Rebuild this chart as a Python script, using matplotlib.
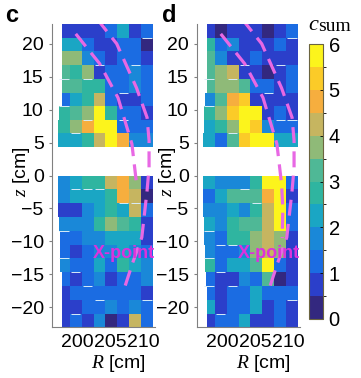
import numpy as np
import matplotlib
matplotlib.use('Agg')
from matplotlib import pyplot as plt
from matplotlib.colors import ListedColormap, BoundaryNorm

plt.rcParams['font.family'] = ['Liberation Sans', 'DejaVu Sans']
plt.rcParams['mathtext.fontset'] = 'custom'
plt.rcParams['mathtext.it'] = 'Liberation Serif:italic'
plt.rcParams['mathtext.rm'] = 'Liberation Sans'

# discrete parula-like colours, one for every 0.5 of c_sum
level_colors = ['#33287f', '#2b3fca', '#1b6ce2', '#1a88d8', '#1aa6c4', '#2fb5a0',
                '#4fb896', '#8fba78', '#c6b560', '#f6ae3e', '#fbcb28', '#fcf41c']
levels = np.arange(0, 6.5, 0.5)

# rows go from top to bottom
c_upper = [[0.8, 0.8, 0.8, 0.8, 1.2, 2.2, 0.8, 1.3],
           [2.2, 2.2, 1.3, 0.8, 0.8, 1.2, 1.3, 0.3],
           [3.7, 3.7, 1.7, 1.3, 0.9, 1.3, 1.3, 0.9],
           [3.2, 2.7, 3.7, 0.9, 1.3, 1.3, 1.7, 1.2],
           [3.2, 3.2, 2.7, 2.7, 1.3, 1.3, 1.7, 1.2],
           [1.3, 2.0, 2.7, 4.2, 1.2, 0.9, 0.9, 1.2],
           [2.7, 3.2, 3.7, 5.7, 2.7, 1.3, 1.0, 0.8],
           [2.7, 3.7, 4.7, 5.7, 5.7, 1.0, 1.3, 1.3],
           [2.2, 2.2, 2.7, 4.2, 5.7, 4.7, 1.5, 1.7]]
c_lower = [[1.7, 2.2, 2.7, 2.7, 4.2, 4.7, 3.7, 0.8],
           [1.7, 2.2, 2.2, 2.2, 2.7, 4.7, 4.2, 0.3],
           [0.8, 0.8, 1.5, 2.2, 2.7, 2.2, 4.2, 1.3],
           [1.7, 1.7, 1.7, 2.7, 3.7, 3.2, 2.7, 0.9],
           [1.3, 1.3, 1.7, 1.7, 2.2, 2.2, 2.2, 0.9],
           [1.3, 0.9, 1.3, 1.7, 1.7, 2.2, 1.7, 1.2],
           [1.7, 1.3, 1.3, 2.2, 1.3, 2.7, 2.2, 1.7],
           [1.3, 0.9, 1.2, 1.7, 0.8, 1.3, 1.3, 1.7],
           [0.9, 1.3, 1.3, 1.3, 1.3, 1.3, 1.3, 0.9],
           [0.9, 0.9, 1.3, 1.3, 1.7, 1.3, 1.7, 1.2],
           [0.8, 1.3, 0.8, 1.7, 0.3, 0.8, 4.2, 1.2]]
d_upper = [[0.8, 0.3, 0.8, 0.8, 0.8, 0.4, 0.8, 1.3],
           [2.7, 1.3, 1.5, 0.8, 0.8, 0.9, 1.3, 0.8],
           [3.2, 1.5, 0.8, 0.8, 1.3, 0.8, 0.9, 0.8],
           [3.2, 3.7, 4.2, 0.8, 0.8, 0.3, 0.9, 1.3],
           [3.2, 3.7, 3.7, 3.2, 1.3, 1.3, 0.9, 1.3],
           [1.5, 3.2, 4.7, 5.2, 0.9, 0.9, 0.8, 0.8],
           [2.7, 3.7, 5.2, 5.7, 5.7, 0.8, 1.2, 0.9],
           [2.2, 2.7, 3.7, 5.7, 5.2, 1.7, 1.2, 1.2],
           [2.2, 1.2, 3.2, 5.2, 5.7, 5.7, 2.2, 2.0]]
d_lower = [[2.2, 1.7, 1.7, 1.7, 2.7, 5.7, 5.7, 1.3],
           [1.3, 2.2, 3.2, 3.2, 3.2, 4.7, 5.7, 0.8],
           [1.7, 1.7, 2.2, 1.7, 2.7, 4.2, 5.7, 1.2],
           [2.2, 1.7, 2.7, 3.2, 3.2, 4.2, 5.7, 1.3],
           [1.7, 1.3, 2.7, 2.7, 3.7, 4.2, 3.7, 0.9],
           [1.7, 1.3, 1.2, 1.7, 3.7, 4.2, 3.7, 0.9],
           [2.7, 1.3, 2.2, 2.2, 3.2, 5.7, 1.3, 0.9],
           [1.3, 0.9, 0.9, 1.7, 1.3, 3.2, 0.2, 0.9],
           [1.3, 0.9, 1.3, 1.3, 2.2, 1.3, 1.2, 1.3],
           [2.0, 0.9, 1.3, 1.3, 2.2, 0.9, 1.3, 0.9],
           [0.8, 1.2, 1.2, 2.2, 0.9, 0.9, 1.3, 0.9]]

R_edges = [197.0, 198.8, 200.6, 202.4, 204.2, 206.0, 207.8, 209.6, 211.4]
z_upper = [23.0, 20.9, 18.9, 16.8, 14.7, 12.6, 10.6, 8.5, 6.5, 4.4]
z_lower = [0.0, -2.1, -4.2, -6.3, -8.4, -10.5, -12.6, -14.7, -16.8, -18.9, -21.0, -23.0]

# left end of every row, the probe rows are not quite in line
left_c_upper = [197.6, 197.6, 197.6, 197.6, 197.6, 197.6, 197.2, 197.0, 197.0]
left_c_lower = [197.0, 197.0, 197.0, 197.2, 197.3, 197.3, 197.3, 197.6, 197.6, 197.6, 197.6]
left_d_upper = [197.6, 197.6, 197.6, 197.6, 197.6, 197.3, 197.2, 197.2, 197.0]
left_d_lower = [197.0, 197.0, 197.0, 197.2, 197.2, 197.3, 197.3, 197.4, 197.6, 197.6, 197.6]

# short white marks: (edge between rows, column)
marks_c_upper = [(3, 3), (4, 0), (4, 2), (5, 5), (6, 0), (7, 2), (7, 5), (1, 7), (3, 6), (8, 1)]
marks_c_lower = [(1, 1), (1, 2), (1, 3), (2, 5), (2, 6), (4, 0), (6, 0), (7, 1), (8, 2), (9, 3), (10, 1), (9, 7)]
marks_d_upper = [(1, 7), (3, 3), (3, 6), (4, 0), (4, 2), (5, 5), (6, 0), (7, 6), (7, 7), (8, 2)]
marks_d_lower = [(1, 3), (2, 4), (4, 0), (5, 1), (5, 2), (6, 0), (7, 1), (8, 0), (8, 2), (9, 7), (10, 1)]

sep_outer_R = [202.9, 205.9, 208.9, 210.5, 210.8, 210.8, 210.5, 209.7, 208.3, 207.1]
sep_outer_z = [23.8, 20.0, 13.3, 8.8, 5.3, 1.2, -2.3, -9.4, -13.3, -17.0]
sep_inner_R = [199.7, 203.3, 206.1, 208.2, 208.9]
sep_inner_z = [21.5, 17.0, 11.8, 4.8, -1.2]
sep_inner_d_R = [199.7, 203.3, 206.1, 208.2, 208.9, 209.1, 209.0]
sep_inner_d_z = [21.5, 17.0, 11.8, 4.8, -1.2, -5.0, -9.5]

cmap = ListedColormap(level_colors)
norm = BoundaryNorm(levels, cmap.N)

W, H = 361.0, 378.0
fig = plt.figure(figsize=(3.61, 3.78), dpi=100)


def block(ax, vals, zs, lefts, marks):
    for i, row in enumerate(vals):
        xs = [lefts[i]] + R_edges[1:]
        ax.pcolormesh(xs, zs[i:i + 2], [row], cmap=cmap, norm=norm)
    for edge, col in marks:
        ax.plot([R_edges[col] + 0.2, R_edges[col + 1] - 0.2], [zs[edge], zs[edge]],
                color='#d8ecf8', lw=0.7, solid_capstyle='butt')


def panel(x0, letter, letter_x, label_x, xlabel_x, blocks, inner_R, inner_z):
    ax = fig.add_axes([x0 / W, 1 - 327 / H, 103 / W, 303 / H])
    for b in blocks:
        block(ax, *b)
    dash = (0, (5, 2.6))
    ax.plot(sep_outer_R, sep_outer_z, color='#e868e4', lw=2.3, ls=dash)
    ax.plot(inner_R, inner_z, color='#e868e4', lw=2.3, ls=dash)
    ax.text(207.0, -11.8, 'X-point', color='#dc32dc', fontsize=13, fontweight='bold',
            ha='center', va='center')
    ax.set_xlim(196.1, 211.7)
    ax.set_ylim(-23, 23)
    ax.set_xticks([200, 205, 210])
    ax.set_yticks([20, 15, 10, 5, 0, -5, -10, -15, -20])
    ax.tick_params(axis='y', labelsize=14, length=2, width=0.8, color='#808080', pad=4)
    ax.tick_params(axis='x', labelsize=14, length=0, pad=5)
    for s in ('top', 'right'):
        ax.spines[s].set_visible(False)
    for s in ('left', 'bottom'):
        ax.spines[s].set_color('#808080')
    fig.text(xlabel_x / W, 1 - 364 / H, r'$R$ [cm]', fontsize=14, ha='center', va='center')
    fig.text(label_x / W, 1 - 172 / H, r'$z$ [cm]', fontsize=14, rotation=90,
             ha='center', va='center')
    fig.text(letter_x / W, 1 - 16 / H, letter, fontsize=17, fontweight='bold',
             ha='left', va='center')
    return ax


ax_c = panel(52, 'c', 5, 21, 118,
             [(c_upper, z_upper, left_c_upper, marks_c_upper),
              (c_lower, z_lower, left_c_lower, marks_c_lower)],
             sep_inner_R, sep_inner_z)
ax_d = panel(197, 'd', 162, 168, 263,
             [(d_upper, z_upper, left_d_upper, marks_d_upper),
              (d_lower, z_lower, left_d_lower, marks_d_lower)],
             sep_inner_d_R, sep_inner_d_z)

cax = fig.add_axes([309 / W, 1 - 319 / H, 14 / W, 275 / H])
sm = plt.cm.ScalarMappable(cmap=cmap, norm=norm)
cb = fig.colorbar(sm, cax=cax, ticks=[0, 1, 2, 3, 4, 5, 6])
cb.ax.tick_params(labelsize=14.5, length=2, width=0.6, direction='in', pad=4)
cb.outline.set_edgecolor('#6b6440')
cb.outline.set_linewidth(0.8)
fig.text(308 / W, 1 - 30 / H, 'c', fontsize=16, family='Liberation Serif', style='italic',
         ha='left', va='baseline')
fig.text(318 / W, 1 - 31 / H, 'sum', fontsize=14, family='Liberation Serif',
         ha='left', va='baseline')

fig.savefig('out.png', dpi=100)
